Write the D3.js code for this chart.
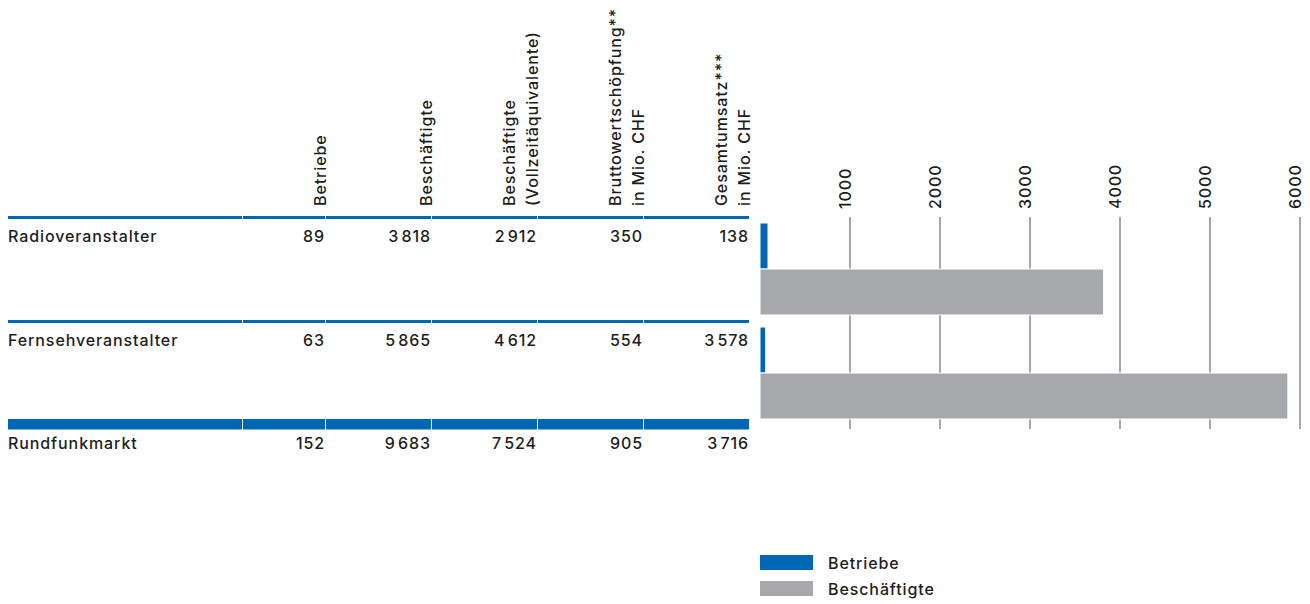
<!DOCTYPE html>
<html>
<head>
<meta charset="utf-8">
<script src="https://cdn.jsdelivr.net/npm/d3@7"></script>
<style>
  html, body { margin: 0; padding: 0; background: #fff; }
  svg { display: block; }
  text { font-family: Inter, "Noto Sans", sans-serif; fill: #1d1d1b; font-weight: 500; font-size: 16px; letter-spacing: 0.9px; }
</style>
</head>
<body>
<svg id="chart" width="1310" height="604"></svg>
<script>
// Market figures for Swiss broadcasting
const categories = ["Radioveranstalter", "Fernsehveranstalter", "Rundfunkmarkt"];
const betriebe = [89, 63, 152];
const beschaeftigte = [3818, 5865, 9683];
const vollzeit = [2912, 4612, 7524];
const bruttowertschoepfung = [350, 554, 905];
const gesamtumsatz = [138, 3578, 3716];
const columnHeaders = [
  ["Betriebe"],
  ["Beschäftigte"],
  ["Beschäftigte", "(Vollzeitäquivalente)"],
  ["Bruttowertschöpfung**", "in Mio. CHF"],
  ["Gesamtumsatz***", "in Mio. CHF"]
];
const barSeries = ["Betriebe", "Beschäftigte"];
const axisTicks = [1000, 2000, 3000, 4000, 5000, 6000];

const BLUE = "#0067b4", GREY = "#a7a8ab";
const svg = d3.select("#chart");
const fmt = d3.formatLocale({ decimal: ".", thousands: "\u200A", grouping: [3], currency: ["", ""] }).format(",d");

// table geometry
const colEdges = [8, 242, 325, 431, 537, 643, 749];
const columns = [betriebe, beschaeftigte, vollzeit, bruttowertschoepfung, gesamtumsatz];
const rowY = d3.scaleBand().domain(categories.slice(0, 2)).range([217, 425]);
const rowTops = [216, 320];

// column headers, rotated
const hdr = svg.append("g");
columnHeaders.forEach((lines, i) => {
  const xr = colEdges[i + 2] + 1;
  lines.forEach((ln, j) => {
    const x = xr - (lines.length - 1 - j) * 23;
    hdr.append("text")
      .attr("transform", `translate(${x},206) rotate(-90)`)
      .text(ln);
  });
});

// row rules
const rules = svg.append("g");
function rule(y, h) {
  for (let i = 0; i < colEdges.length - 1; i++) {
    rules.append("rect")
      .attr("x", colEdges[i] + (i ? 1 : 0))
      .attr("y", y)
      .attr("width", colEdges[i + 1] - colEdges[i] - (i ? 1 : 0))
      .attr("height", h)
      .attr("fill", BLUE);
  }
}
rule(rowTops[0], 3);
rule(rowTops[1], 3);
rule(419, 10.5);

// table cells
const baselines = [242, 346, 449];
categories.forEach((c, r) => {
  svg.append("text").attr("x", 8).attr("y", baselines[r]).text(c);
  columns.forEach((col, i) => {
    svg.append("text")
      .attr("x", colEdges[i + 2])
      .attr("y", baselines[r])
      .attr("text-anchor", "end")
      .text(fmt(col[r]));
  });
});

// bar chart
const x = d3.scaleLinear().domain([0, 6000]).range([760, 1300]);
const inner = d3.scaleBand().domain(barSeries).range([0, 92]).paddingInner(0);

const grid = svg.append("g");
grid.selectAll("line").data(axisTicks).join("line")
  .attr("x1", d => x(d)).attr("x2", d => x(d))
  .attr("y1", 217).attr("y2", 429)
  .attr("stroke", GREY).attr("stroke-width", 2);

grid.selectAll("text").data(axisTicks).join("text")
  .attr("transform", d => `translate(${x(d) + 1},209) rotate(-90)`)
  .text(d => d);

const bars = svg.append("g");
categories.slice(0, 2).forEach((c, r) => {
  const y0 = rowY(c) + 6;
  const vals = [betriebe[r], beschaeftigte[r]];
  barSeries.forEach((s, k) => {
    bars.append("rect")
      .attr("x", x(0))
      .attr("y", y0 + inner(s))
      .attr("width", x(vals[k]) - x(0))
      .attr("height", inner.bandwidth())
      .attr("fill", k ? GREY : BLUE)
      .attr("stroke", "#fff")
      .attr("stroke-width", 1);
  });
});

// legend
const legend = svg.append("g");
barSeries.forEach((s, i) => {
  legend.append("rect").attr("x", 760).attr("y", 555 + i * 26).attr("width", 53).attr("height", 15)
    .attr("fill", i ? GREY : BLUE);
  legend.append("text").attr("x", 828).attr("y", 569 + i * 26).text(s);
});
</script>
</body>
</html>
